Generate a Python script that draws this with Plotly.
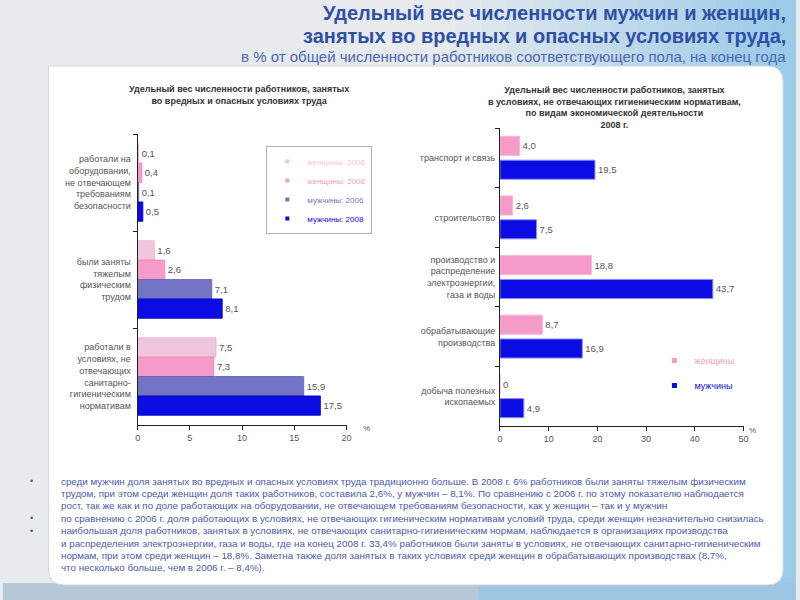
import plotly.graph_objects as go

W, H = 800, 600

# ---------------- data ----------------
left_categories = [
    "работали на<br>оборудовании,<br>не отвечающем<br>требованиям<br>безопасности",
    "были заняты<br>тяжелым<br>физическим<br>трудом",
    "работали в<br>условиях, не<br>отвечающих<br>санитарно-<br>гигиеническим<br>нормативам",
]
left_series_names = ["женщины: 2006", "женщины: 2008", "мужчины: 2006", "мужчины: 2008"]
women_2006 = [0.1, 1.6, 7.5]
women_2008 = [0.4, 2.6, 7.3]
men_2006 = [0.1, 7.1, 15.9]
men_2008 = [0.5, 8.1, 17.5]
left_ticks = [0, 5, 10, 15, 20]

right_categories = [
    "транспорт и связь",
    "строительство",
    "производство и<br>распределение<br>электроэнергии,<br>газа и воды",
    "обрабатывающие<br>производства",
    "добыча полезных<br>ископаемых",
]
right_series_names = ["женщины", "мужчины"]
right_women = [4.0, 2.6, 18.8, 8.7, 0]
right_men = [19.5, 7.5, 43.7, 16.9, 4.9]
right_ticks = [0, 10, 20, 30, 40, 50]

title_lines = [
    "Удельный вес численности мужчин и женщин,",
    "занятых во вредных и опасных условиях труда,",
]
subtitle = "в % от общей численности работников соответствующего пола, на конец года"
left_title = "Удельный вес численности работников, занятых<br>во вредных и опасных условиях труда"
right_title = ("Удельный вес численности работников, занятых<br>"
               "в условиях, не отвечающих гигиеническим нормативам,<br>"
               "по видам экономической деятельности<br>2008 г.")
body_lines = [
    ("•", "среди мужчин доля занятых во вредных и опасных условиях труда традиционно больше. В 2008 г. 6% работников были заняты тяжелым физическим"),
    ("", "трудом, при этом среди женщин доля таких работников, составила 2,6%, у мужчин – 8,1%. По сравнению с 2006 г. по этому показателю наблюдается"),
    ("", "рост, так же как и по доле работающих на оборудовании, не отвечающем требованиям безопасности, как у женщин – так и у мужчин"),
    ("•", "по сравнению с 2006 г. доля работающих в условиях, не отвечающих гигиеническим нормативам условий труда, среди женщин незначительно снизилась"),
    ("•", "наибольшая доля работников, занятых в условиях, не отвечающих санитарно-гигиеническим нормам, наблюдается в организациях производства"),
    ("", "и распределения электроэнергии, газа и воды, где на конец 2008 г. 33,4% работников были заняты в условиях, не отвечающих санитарно-гигиеническим"),
    ("", "нормам, при этом среди женщин – 18,8%. Заметна также доля занятых в таких условиях среди женщин в обрабатывающих производствах (8,7%,"),
    ("", "что несколько больше, чем в 2006 г. – 8,4%)."),
]

# ---------------- styles ----------------
left_colors = ["#f1c6dd", "#f59bc9", "#7474c6", "#0b0be4"]
left_lines = ["#e8b0cc", "#ea86b8", "#6060b0", "#0000c0"]
right_colors = ["#f59bc9", "#0b0be4"]
right_lines = ["#f7b5d6", "#8a8aff"]
FONT = "Liberation Sans, Arial, sans-serif"


def px(x):
    return x / W


def py(y):
    return 1 - y / H


def fmt(v):
    return "0" if v == 0 else f"{v:.1f}".replace(".", ",")


fig = go.Figure()

# left chart bars
for name, vals, col, lc in zip(left_series_names, [women_2006, women_2008, men_2006, men_2008],
                               left_colors, left_lines):
    fig.add_trace(go.Bar(
        y=left_categories, x=vals, orientation="h", name=name,
        marker=dict(color=col, line=dict(color=lc, width=0.8)),
        text=[fmt(v) for v in vals], textposition="outside", constraintext="none",
        cliponaxis=False, textfont=dict(size=9.5, color="#555", family=FONT),
        xaxis="x", yaxis="y", showlegend=False,
    ))
    fig.add_trace(go.Scatter(
        x=[None], y=[None], mode="markers", xaxis="x", yaxis="y",
        marker=dict(symbol="square", size=4, color=col),
        name=f"<span style='color:{col}'>{name}</span>", legend="legend",
    ))

# right chart bars
for name, vals, col, lc in zip(right_series_names, [right_women, right_men], right_colors, right_lines):
    fig.add_trace(go.Bar(
        y=right_categories, x=vals, orientation="h", name=name,
        marker=dict(color=col, line=dict(color=lc, width=1)),
        text=[fmt(v) for v in vals], textposition="outside", constraintext="none",
        cliponaxis=False, textfont=dict(size=9.5, color="#555", family=FONT),
        xaxis="x2", yaxis="y2", showlegend=False, width=0.32,
    ))
    fig.add_trace(go.Scatter(
        x=[None], y=[None], mode="markers", xaxis="x2", yaxis="y2",
        marker=dict(symbol="square", size=5, color=col),
        name=f"<span style='color:{col}'>{name}</span>", legend="legend2",
        legendgroup=name,
    ))

axis_common = dict(showline=True, linecolor="#222", linewidth=1, ticks="outside",
                   ticklen=4, tickcolor="#222", showgrid=False, zeroline=False,
                   tickfont=dict(size=9, color="#555", family=FONT))

fig.update_layout(
    width=W, height=H, margin=dict(l=0, r=0, t=0, b=0),
    paper_bgcolor="#e8ebee", plot_bgcolor="rgba(0,0,0,0)",
    barmode="group", bargap=0.2, bargroupgap=0,
    separators=", ",
    font=dict(family=FONT, color="#555"),
    xaxis=dict(domain=[px(136), px(347)], range=[0, 20], tickvals=left_ticks,
               anchor="y", **axis_common),
    yaxis=dict(domain=[py(425), py(134)], autorange="reversed", type="category",
               tickson="boundaries", anchor="x", ticklabelstandoff=4, **axis_common),
    xaxis2=dict(domain=[px(502), px(748)], range=[0, 50], tickvals=right_ticks,
                anchor="y2", **axis_common),
    yaxis2=dict(domain=[py(426), py(128)], autorange="reversed", type="category",
                tickson="boundaries", anchor="x2", ticklabelstandoff=2, **axis_common),
    legend=dict(x=px(266), y=py(146), xanchor="left", yanchor="top",
                bgcolor="white", bordercolor="#b0b0b0", borderwidth=1,
                font=dict(size=8, family=FONT), itemwidth=30, tracegroupgap=0),
    legend2=dict(x=px(658), y=py(346), xanchor="left", yanchor="top",
                 bgcolor="rgba(0,0,0,0)", borderwidth=0,
                 font=dict(size=9, family=FONT), itemwidth=30, tracegroupgap=6,
                 traceorder="grouped"),
)

# ---------------- background decoration ----------------
shapes = []
n = 14
for i in range(n):
    t = i / (n - 1)
    r = int(232 + (156 - 232) * t)
    g = int(235 + (203 - 235) * t)
    b = int(238 + (232 - 238) * t)
    x0 = 430 + i * (370 / n)
    shapes.append(dict(type="rect", xref="paper", yref="paper", layer="below",
                       x0=px(x0), x1=px(x0 + 370 / n + 1), y0=0, y1=1,
                       line=dict(width=0), fillcolor=f"rgb({r},{g},{b})"))
shapes.append(dict(type="rect", xref="paper", yref="paper", layer="below",
                   x0=0, x1=1, y0=0, y1=py(583), line=dict(width=0),
                   fillcolor="#b4c8d6"))
shapes.append(dict(type="rect", xref="paper", yref="paper", layer="below",
                   x0=px(480), x1=1, y0=0, y1=py(583), line=dict(width=0),
                   fillcolor="#9dc6e0"))
x0, x1, y0, y1, rr = 46, 788, 66, 585, 16
path = (f"M {px(x0)},{py(y0)} L {px(x1 - rr)},{py(y0)} "
        f"Q {px(x1)},{py(y0)} {px(x1)},{py(y0 + rr)} "
        f"L {px(x1)},{py(y1 - rr)} Q {px(x1)},{py(y1)} {px(x1 - rr)},{py(y1)} "
        f"L {px(x0 + rr)},{py(y1)} Q {px(x0)},{py(y1)} {px(x0)},{py(y1 - rr)} Z")
shapes.append(dict(type="path", xref="paper", yref="paper", layer="below", path=path,
                   fillcolor="white", line=dict(color="#d0d8e0", width=1)))
fig.update_layout(shapes=shapes)

# ---------------- texts ----------------
ann = []
for k, yy in enumerate([13, 36]):
    ann.append(dict(text=f"<b>{title_lines[k]}</b>", x=px(793), y=py(yy), xanchor="right",
                    yanchor="middle", showarrow=False, xref="paper", yref="paper",
                    font=dict(size=20, color="#2f50a6", family=FONT)))
ann.append(dict(text=subtitle, x=px(793), y=py(57), xanchor="right", yanchor="middle",
                showarrow=False, xref="paper", yref="paper",
                font=dict(size=15, color="#4a66b4", family=FONT)))
ann.append(dict(text=f"<b>{left_title}</b>", x=px(238), y=py(95), xanchor="center",
                yanchor="middle", showarrow=False, xref="paper", yref="paper",
                font=dict(size=9, color="#333", family=FONT)))
ann.append(dict(text=f"<b>{right_title}</b>", x=px(618), y=py(107), xanchor="center",
                yanchor="middle", showarrow=False, xref="paper", yref="paper",
                font=dict(size=9, color="#333", family=FONT)))
ann.append(dict(text="%", x=px(367), y=py(428), xanchor="center", yanchor="middle",
                showarrow=False, xref="paper", yref="paper",
                font=dict(size=8, color="#555", family=FONT)))
ann.append(dict(text="%", x=px(757), y=py(430), xanchor="center", yanchor="middle",
                showarrow=False, xref="paper", yref="paper",
                font=dict(size=8, color="#555", family=FONT)))
for i, (bullet, line) in enumerate(body_lines):
    yy = 481 + i * 12.4
    if bullet:
        ann.append(dict(text=bullet, x=px(29), y=py(yy), xanchor="center", yanchor="middle",
                        showarrow=False, xref="paper", yref="paper",
                        font=dict(size=9, color="#4a5aa8", family=FONT)))
    ann.append(dict(text=line, x=px(57), y=py(yy), xanchor="left", yanchor="middle",
                    showarrow=False, xref="paper", yref="paper",
                    font=dict(size=9.8, color="#4a5aa8", family=FONT)))
fig.update_layout(annotations=ann)

fig.write_html("out.html", config={"displayModeBar": False},
               post_script="document.body.style.margin='0';document.body.style.overflow='hidden';")
